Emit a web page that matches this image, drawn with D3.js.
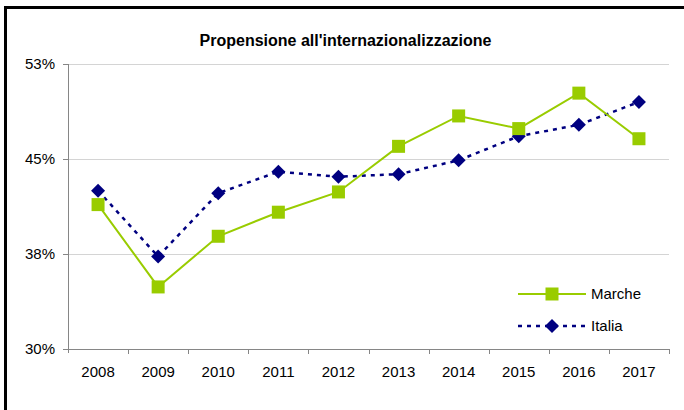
<!DOCTYPE html>
<html>
<head>
<meta charset="utf-8">
<script src="https://cdnjs.cloudflare.com/ajax/libs/d3/7.8.5/d3.min.js"></script>
<style>
	body { margin: 0; background: #fff; }
	svg { display: block; font-family: "Liberation Sans", Arial, sans-serif; }
</style>
</head>
<body>
<svg id="chart" width="684" height="410"></svg>
<script>
/*=================
=== Data
=================*/
const years = ['2008', '2009', '2010', '2011', '2012', '2013', '2014', '2015', '2016', '2017'];
const marche = [0.414, 0.349, 0.389, 0.408, 0.424, 0.460, 0.484, 0.474, 0.502, 0.466];
const italia = [0.425, 0.373, 0.423, 0.440, 0.436, 0.438, 0.449, 0.468, 0.477, 0.495];
const yTicks = [0.30, 0.375, 0.45, 0.525];
const seriesNames = ['Marche', 'Italia'];

const chartTitle = "Propensione all'internazionalizzazione";

/*=================
=== Setup
=================*/
const svg = d3.select('#chart');

const plot = { left: 68, right: 669, top: 64, bottom: 349 };

const xScale = d3.scaleBand()
	.domain(years)
	.range([plot.left, plot.right])
	.padding(0);

const yScale = d3.scaleLinear()
	.domain([0.30, 0.525])
	.range([plot.bottom, plot.top]);

const green = '#99cc00';
const navy = '#000080';
const axisGray = '#868686';
const fontSize = 15;

// outer frame (only top + left edges show)
svg.append('path')
	.attr('d', 'M5.5,410 L5.5,7.5 L684,7.5')
	.attr('fill', 'none')
	.attr('stroke', '#000')
	.attr('stroke-width', 3);

// title
svg.append('text')
	.attr('x', 345.5)
	.attr('y', 46)
	.attr('text-anchor', 'middle')
	.attr('font-size', 16)
	.attr('font-weight', 'bold')
	.attr('fill', '#000')
	.text(chartTitle);

// gridlines
svg.append('g')
	.selectAll('line')
	.data(yTicks.slice(1))
	.enter()
	.append('line')
		.attr('x1', plot.left)
		.attr('x2', plot.right)
		.attr('y1', d => Math.round(yScale(d)) + 0.5)
		.attr('y2', d => Math.round(yScale(d)) + 0.5)
		.attr('stroke', '#d4d4d4')
		.attr('stroke-width', 1);

// y axis
const yAxis = svg.append('g')
	.attr('transform', `translate(${plot.left},0)`)
	.call(d3.axisLeft(yScale)
		.tickValues(yTicks)
		.tickFormat(d3.format('.0%'))
		.tickSize(5)
		.tickPadding(8));
yAxis.select('.domain')
	.attr('d', `M0.5,${plot.top}V${plot.bottom + 4}`);

// x axis (ticks at the category boundaries)
const xAxis = svg.append('g')
	.attr('transform', `translate(0,${plot.bottom})`)
	.call(d3.axisBottom(xScale).tickSize(0).tickPadding(17));
xAxis.select('.domain')
	.attr('d', `M${plot.left - 5},0.5H${plot.right}`);
xAxis.selectAll('.boundary')
	.data(years)
	.enter()
	.append('line')
		.attr('class', 'boundary')
		.attr('x1', d => Math.round(xScale(d) + xScale.bandwidth()) + 0.5)
		.attr('x2', d => Math.round(xScale(d) + xScale.bandwidth()) + 0.5)
		.attr('y1', 0)
		.attr('y2', 5)
		.attr('stroke', axisGray);

[yAxis, xAxis].forEach(ax => {
	ax.selectAll('.domain').attr('stroke', axisGray);
	ax.selectAll('.tick line').attr('stroke', axisGray);
	ax.selectAll('.tick text')
		.attr('font-family', '"Liberation Sans", Arial, sans-serif')
		.attr('font-size', fontSize)
		.attr('fill', '#000');
});

/*=================
=== Lines + markers
=================*/
const cx = (d, i) => xScale(years[i]) + xScale.bandwidth() / 2;
const line = d3.line()
	.x(cx)
	.y(d => yScale(d));

svg.append('path')
	.datum(italia)
	.attr('d', line)
	.attr('fill', 'none')
	.attr('stroke', navy)
	.attr('stroke-width', 2.5)
	.attr('stroke-dasharray', '4,5');

svg.append('path')
	.datum(marche)
	.attr('d', line)
	.attr('fill', 'none')
	.attr('stroke', green)
	.attr('stroke-width', 2);

const diamond = 'M0,-7L7,0L0,7L-7,0Z';

svg.append('g')
	.selectAll('path')
	.data(italia)
	.enter()
	.append('path')
		.attr('d', diamond)
		.attr('transform', (d, i) => `translate(${cx(d, i)},${yScale(d)})`)
		.attr('fill', navy);

svg.append('g')
	.selectAll('rect')
	.data(marche)
	.enter()
	.append('rect')
		.attr('x', (d, i) => cx(d, i) - 6.5)
		.attr('y', d => yScale(d) - 6.5)
		.attr('width', 13)
		.attr('height', 13)
		.attr('fill', green);

/*=================
=== Legend
=================*/
const legend = svg.append('g')
	.attr('transform', 'translate(518,294)');

const item = legend.selectAll('g')
	.data(seriesNames)
	.enter()
	.append('g')
		.attr('transform', (d, i) => `translate(0,${i * 32})`);

item.append('line')
	.attr('x1', 0)
	.attr('x2', 68)
	.attr('y1', 0)
	.attr('y2', 0)
	.attr('stroke', (d, i) => i === 0 ? green : navy)
	.attr('stroke-width', (d, i) => i === 0 ? 2 : 2.5)
	.attr('stroke-dasharray', (d, i) => i === 0 ? null : '4,5');

item.filter((d, i) => i === 0)
	.append('rect')
		.attr('x', 34 - 6.5)
		.attr('y', -6.5)
		.attr('width', 13)
		.attr('height', 13)
		.attr('fill', green);

item.filter((d, i) => i === 1)
	.append('path')
		.attr('d', diamond)
		.attr('transform', 'translate(34,0)')
		.attr('fill', navy);

item.append('text')
	.attr('x', 73)
	.attr('y', 0)
	.attr('dy', '0.35em')
	.attr('font-size', fontSize)
	.attr('fill', '#000')
	.text(d => d);
</script>
</body>
</html>
